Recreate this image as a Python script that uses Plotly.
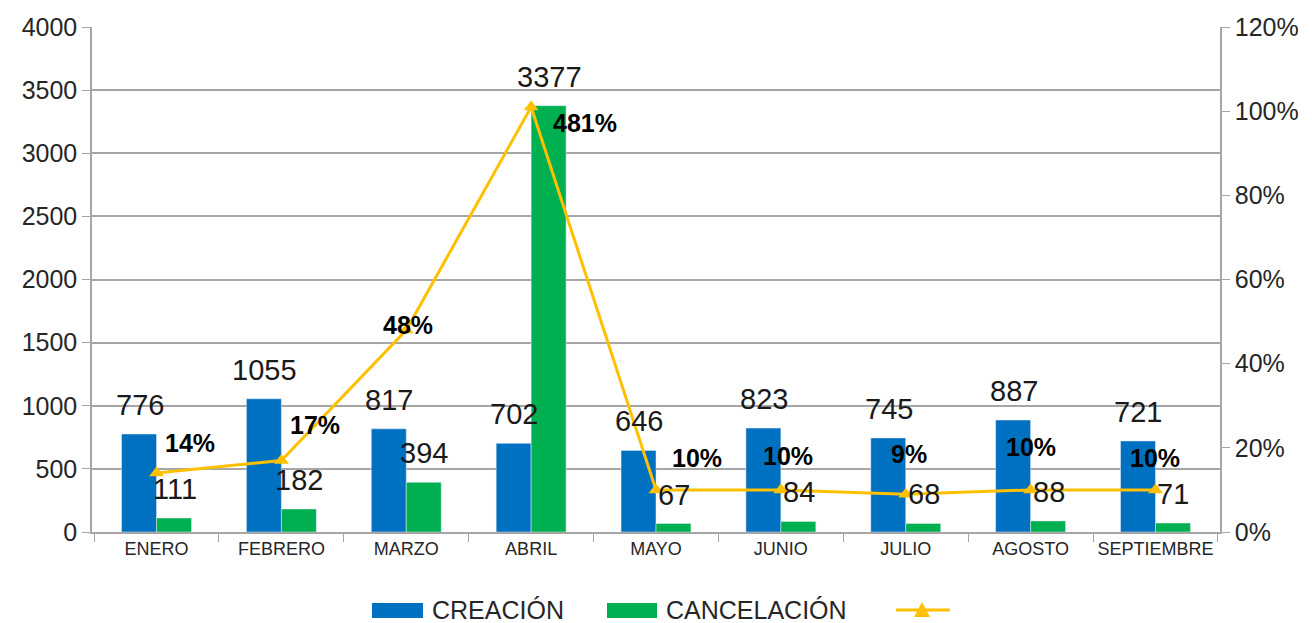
import plotly.graph_objects as go

months = ["ENERO", "FEBRERO", "MARZO", "ABRIL", "MAYO", "JUNIO", "JULIO", "AGOSTO", "SEPTIEMBRE"]
creacion = [776, 1055, 817, 702, 646, 823, 745, 887, 721]
cancelacion = [111, 182, 394, 3377, 67, 84, 68, 88, 71]
# ratio line as drawn on the secondary axis (April is drawn at ~101%)
ratio_plotted = [0.14, 0.17, 0.48, 1.01, 0.10, 0.10, 0.09, 0.10, 0.10]
ratio_labels = ["14%", "17%", "48%", "481%", "10%", "10%", "9%", "10%", "10%"]

# label offsets (px) for the percentage labels
pct_dx = [33, 34, 2, 54, 41, 7, 3, 0, 0]
pct_dy = [30, 35, 5, -16, 32, 34, 40, 43, 32]

BLUE = "#0070C0"
GREEN = "#00B050"
GOLD = "#FFC000"
FONT = "Liberation Sans"
TXT = "#262626"

PAGE_OFF = 8  # default body margin of the html page
W, H = 1312 - 2 * PAGE_OFF, 623 - PAGE_OFF
L, T = 92 - PAGE_OFF, 27 - PAGE_OFF
PW, PH = 1128, 505
R, B = W - L - PW, H - T - PH


def px(xp):
    return (xp - PAGE_OFF - L) / PW


def py(yp):
    return (T + PH - (yp - PAGE_OFF)) / PH


fig = go.Figure()
fig.add_trace(go.Bar(x=months, y=creacion, name="CREACIÓN", marker_color=BLUE))
fig.add_trace(go.Bar(x=months, y=cancelacion, name="CANCELACIÓN", marker_color=GREEN))
fig.add_trace(go.Scatter(x=months, y=ratio_plotted, name=" ", yaxis="y2", mode="lines+markers",
                         line=dict(color=GOLD, width=3),
                         marker=dict(symbol="triangle-up", size=13, color=GOLD)))

annotations = []
for m, v in zip(months, creacion):
    annotations.append(dict(x=m, y=v, xref="x", yref="y", text=str(v), showarrow=False,
                            xshift=-17, yshift=29, yanchor="middle",
                            font=dict(family=FONT, size=29, color="#1a1a1a")))
for m, v in zip(months, cancelacion):
    annotations.append(dict(x=m, y=v, xref="x", yref="y", text=str(v), showarrow=False,
                            xshift=18, yshift=29, yanchor="middle",
                            font=dict(family=FONT, size=29, color="#1a1a1a")))
for m, v, t, dx, dy in zip(months, ratio_plotted, ratio_labels, pct_dx, pct_dy):
    annotations.append(dict(x=m, y=v, xref="x", yref="y2", text="<b>" + t + "</b>", showarrow=False,
                            xshift=dx, yshift=dy, yanchor="middle",
                            font=dict(family=FONT, size=25, color="#000000")))

# custom legend (drawn in paper coordinates)
LEG_Y = 610
shapes = [
    dict(type="rect", xref="paper", yref="paper", x0=px(372), x1=px(423), y0=py(LEG_Y + 8), y1=py(LEG_Y - 7),
         fillcolor=BLUE, line=dict(width=0)),
    dict(type="rect", xref="paper", yref="paper", x0=px(607), x1=px(657), y0=py(LEG_Y + 8), y1=py(LEG_Y - 7),
         fillcolor=GREEN, line=dict(width=0)),
    dict(type="line", xref="paper", yref="paper", x0=px(896), x1=px(950), y0=py(LEG_Y), y1=py(LEG_Y),
         line=dict(color=GOLD, width=3)),
    dict(type="path", xref="paper", yref="paper",
         path=f"M {px(914)},{py(LEG_Y + 7)} L {px(930)},{py(LEG_Y + 7)} L {px(922)},{py(LEG_Y - 8)} Z",
         fillcolor=GOLD, line=dict(width=0)),
]
annotations.append(dict(xref="paper", yref="paper", x=px(430), y=py(LEG_Y), text="CREACIÓN",
                        showarrow=False, xanchor="left", yanchor="middle",
                        font=dict(family=FONT, size=25, color=TXT)))
annotations.append(dict(xref="paper", yref="paper", x=px(664), y=py(LEG_Y), text="CANCELACIÓN",
                        showarrow=False, xanchor="left", yanchor="middle",
                        font=dict(family=FONT, size=25, color=TXT)))

fig.update_layout(
    width=W, height=H,
    margin=dict(l=L, r=R, t=T, b=B, autoexpand=False),
    paper_bgcolor="white", plot_bgcolor="white",
    barmode="group", bargap=0.44, bargroupgap=0,
    showlegend=False,
    font=dict(family=FONT, color=TXT),
    xaxis=dict(type="category", showline=True, linecolor="#A6A6A6", linewidth=1.5,
               ticks="outside", tickson="boundaries", ticklen=8, tickcolor="#A6A6A6",
               tickangle=0, automargin=False,
               tickfont=dict(family=FONT, size=18, color=TXT)),
    yaxis=dict(range=[0, 4000], dtick=500, showgrid=True, gridcolor="#A6A6A6", gridwidth=1.5,
               showline=True, linecolor="#A6A6A6", linewidth=1.5, ticks="outside", ticklen=8,
               tickcolor="#A6A6A6", zeroline=False, automargin=False,
               tickfont=dict(family=FONT, size=25, color=TXT)),
    yaxis2=dict(range=[0, 1.2], dtick=0.2, tickformat=".0%", overlaying="y", side="right",
                showgrid=False, showline=True, linecolor="#A6A6A6", linewidth=1.5,
                ticks="outside", ticklen=8, tickcolor="#A6A6A6", zeroline=False, automargin=False,
                tickfont=dict(family=FONT, size=25, color=TXT)),
    annotations=annotations,
    shapes=shapes,
)

fig.write_html("out.html")
